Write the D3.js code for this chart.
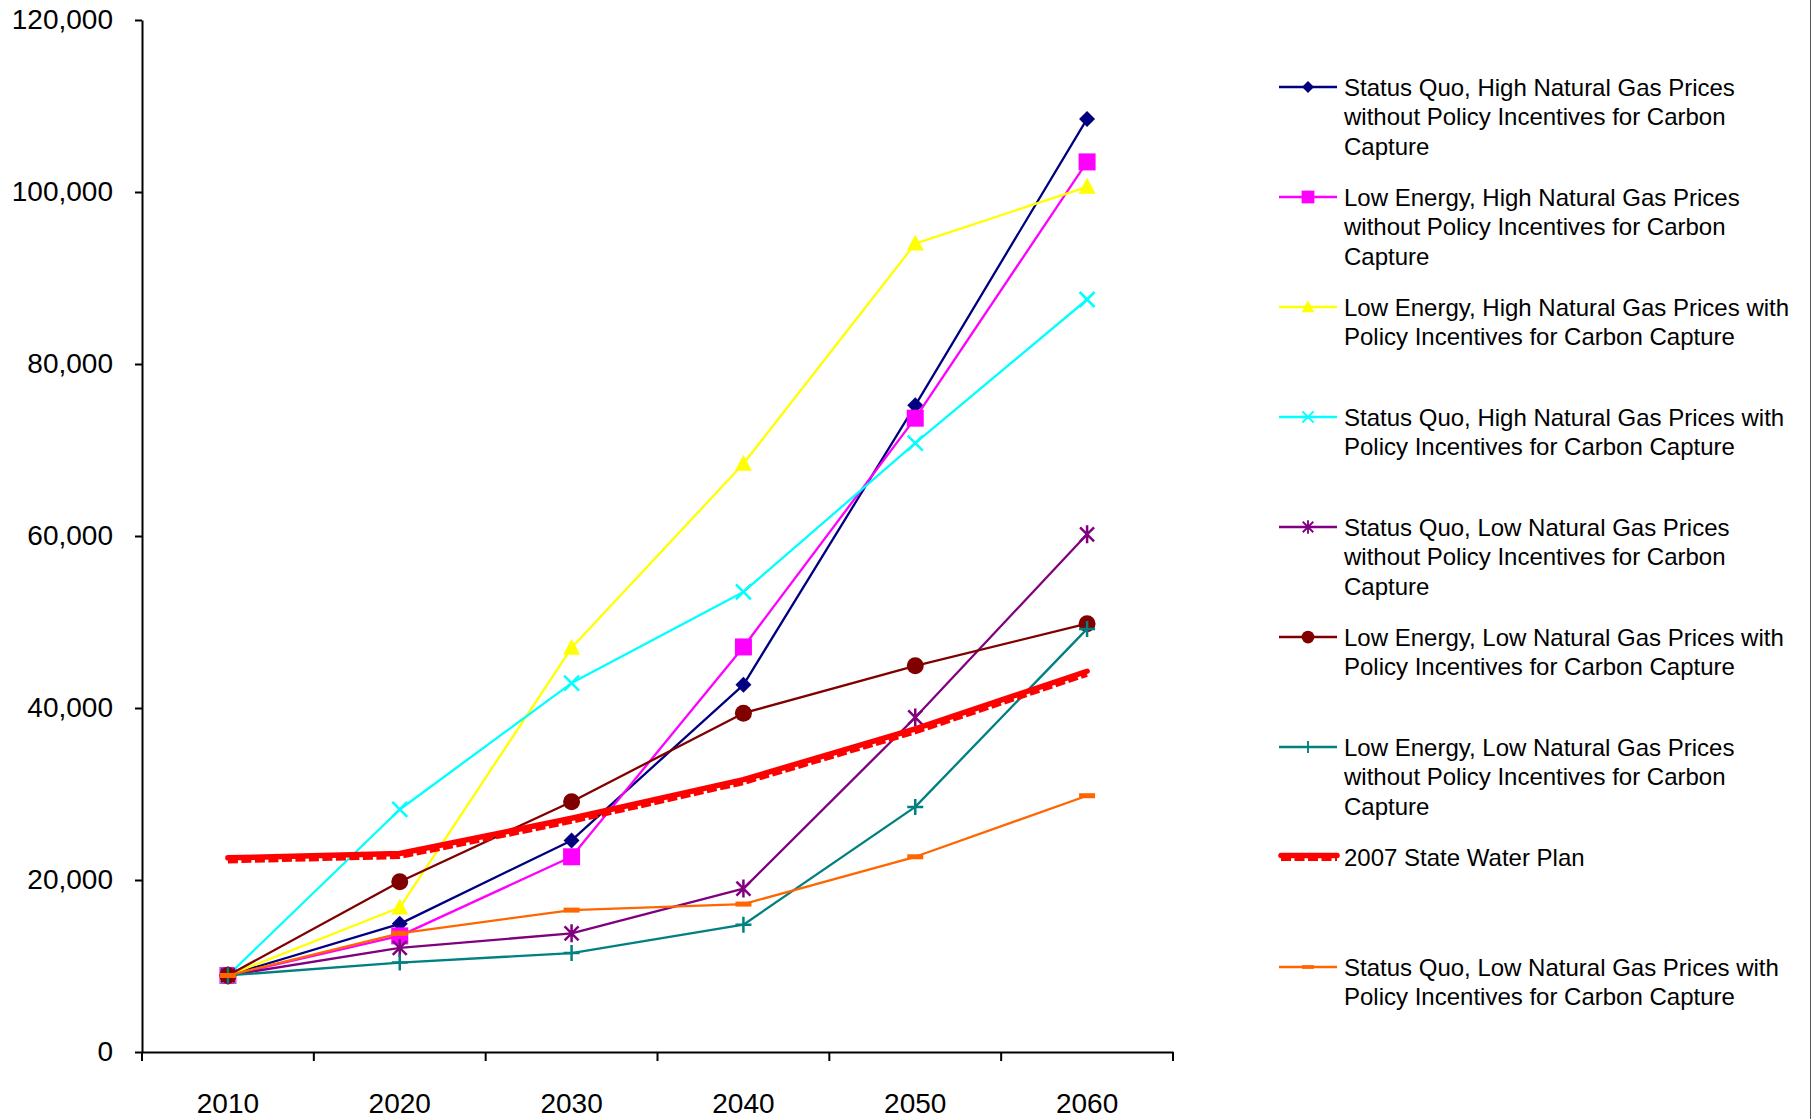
<!DOCTYPE html>
<html>
<head>
<meta charset="utf-8">
<script src="https://cdn.jsdelivr.net/npm/d3@7"></script>
<style>
  html, body { margin: 0; padding: 0; background: #fff; }
  svg { display: block; font-family: "Liberation Sans", Arial, sans-serif; }
</style>
</head>
<body>
<svg id="chart" width="1812" height="1119"></svg>
<script>
// ---------- DATA ----------
const years = ["2010", "2020", "2030", "2040", "2050", "2060"];
const yTicks = [0, 20000, 40000, 60000, 80000, 100000, 120000];

const sqHighWithout  = [8900, 14900, 24600, 42700, 75200, 108500];
const leHighWithout  = [8900, 13500, 22700, 47100, 73700, 103500];
const leHighWith     = [8900, 16800, 47000, 68400, 94000, 100600];
const sqHighWith     = [8900, 28200, 42900, 53500, 70800, 87500];
const sqLowWithout   = [8900, 12100, 13800, 19000, 38900, 60200];
const leLowWith      = [8900, 19800, 29100, 39400, 44900, 49800];
const leLowWithout   = [8900, 10400, 11500, 14800, 28500, 49200];
const stateWaterPlan = [22400, 22900, 27000, 31500, 37400, 44100];
const sqLowWith      = [8900, 13800, 16500, 17200, 22700, 29800];

const seriesNames = [
  ["Status Quo, High Natural Gas Prices", "without Policy Incentives for Carbon", "Capture"],
  ["Low Energy, High Natural Gas Prices", "without Policy Incentives for Carbon", "Capture"],
  ["Low Energy, High Natural Gas Prices with", "Policy Incentives for Carbon Capture"],
  ["Status Quo, High Natural Gas Prices with", "Policy Incentives for Carbon Capture"],
  ["Status Quo, Low Natural Gas Prices", "without Policy Incentives for Carbon", "Capture"],
  ["Low Energy, Low Natural Gas Prices with", "Policy Incentives for Carbon Capture"],
  ["Low Energy, Low Natural Gas Prices", "without Policy Incentives for Carbon", "Capture"],
  ["2007 State Water Plan"],
  ["Status Quo, Low Natural Gas Prices with", "Policy Incentives for Carbon Capture"]
];
const seriesValues = [sqHighWithout, leHighWithout, leHighWith, sqHighWith, sqLowWithout,
                      leLowWith, leLowWithout, stateWaterPlan, sqLowWith];
const seriesColors = ["#000080", "#FF00FF", "#FFFF00", "#00FFFF", "#800080",
                      "#800000", "#008080", "#FF0000", "#FF6600"];
const seriesMarkers = ["diamond", "square", "triangle", "x", "asterisk",
                       "circle", "plus", "none", "dash"];

// ---------- LAYOUT ----------
const svg = d3.select("#chart");
const plot = { left: 142, right: 1173, top: 20, bottom: 1052 };
const font = '"Liberation Sans", Arial, sans-serif';

const x = d3.scaleBand().domain(years).range([plot.left, plot.right]).padding(0);
const y = d3.scaleLinear().domain([0, 120000]).range([plot.bottom, plot.top]);
const cx = d => x(d) + x.bandwidth() / 2;

// right border
svg.append("line").attr("x1", 1810.5).attr("x2", 1810.5).attr("y1", 0).attr("y2", 1119)
  .attr("stroke", "#555").attr("stroke-width", 1);

// Y axis
const yAxis = svg.append("g").attr("transform", `translate(${plot.left},0)`)
  .call(d3.axisLeft(y).tickValues(yTicks).tickFormat(d3.format(",")).tickSize(7).tickSizeOuter(0).tickPadding(22));
yAxis.select(".domain").attr("stroke", "#000").attr("stroke-width", 2);
yAxis.selectAll(".tick line").attr("stroke", "#000").attr("stroke-width", 2);
yAxis.selectAll(".tick text").attr("font-size", 28).attr("font-family", font).attr("fill", "#000");

// X axis
const xAxis = svg.append("g").attr("transform", `translate(0,${plot.bottom})`)
  .call(d3.axisBottom(x).tickSize(0).tickSizeOuter(0).tickPadding(41));
xAxis.select(".domain").attr("stroke", "#000").attr("stroke-width", 2);
xAxis.selectAll(".tick text").attr("font-size", 28).attr("font-family", font).attr("fill", "#000");
const boundaries = years.map(d => x(d)).concat([x.range()[1]]);
xAxis.selectAll(".bt").data(boundaries).join("line").attr("class", "bt")
  .attr("x1", d => d).attr("x2", d => d).attr("y1", 0).attr("y2", 9)
  .attr("stroke", "#000").attr("stroke-width", 2);

// ---------- MARKERS ----------
function drawMarker(g, type, color, px, py) {
  switch (type) {
    case "diamond":
      g.append("path").attr("d", `M${px},${py-8}L${px+8},${py}L${px},${py+8}L${px-8},${py}Z`).attr("fill", color);
      break;
    case "square":
      g.append("rect").attr("x", px-8.5).attr("y", py-8.5).attr("width", 17).attr("height", 17).attr("fill", color);
      break;
    case "triangle":
      g.append("path").attr("d", `M${px},${py-9}L${px+8.5},${py+7}L${px-8.5},${py+7}Z`).attr("fill", color);
      break;
    case "x":
      g.append("path").attr("d", `M${px-7.5},${py-7.5}L${px+7.5},${py+7.5}M${px+7.5},${py-7.5}L${px-7.5},${py+7.5}`)
        .attr("stroke", color).attr("stroke-width", 2.5);
      break;
    case "asterisk":
      g.append("path").attr("d", `M${px-7},${py-7}L${px+7},${py+7}M${px+7},${py-7}L${px-7},${py+7}M${px},${py-9}L${px},${py+9}`)
        .attr("stroke", color).attr("stroke-width", 2.5);
      break;
    case "circle":
      g.append("circle").attr("cx", px).attr("cy", py).attr("r", 8.5).attr("fill", color);
      break;
    case "plus":
      g.append("path").attr("d", `M${px-8},${py}L${px+8},${py}M${px},${py-8}L${px},${py+8}`)
        .attr("stroke", color).attr("stroke-width", 2.5);
      break;
    case "dash":
      g.append("rect").attr("x", px-8).attr("y", py-2.5).attr("width", 16).attr("height", 5).attr("fill", color);
      break;
  }
}

// ---------- SERIES ----------
const line = d3.line().x((d, i) => cx(years[i])).y(d => y(d));

function drawNotchedLine(g, d, color) {
  // solid upper part + dashed lower part => thick line with small white notches
  g.append("path").attr("d", d).attr("fill", "none").attr("transform", "translate(0,-1.5)")
    .attr("stroke", color).attr("stroke-width", 5.5).attr("stroke-linecap", "round").attr("stroke-linejoin", "round");
  g.append("path").attr("d", d).attr("fill", "none").attr("transform", "translate(0,1.8)")
    .attr("stroke", color).attr("stroke-width", 4.5).attr("stroke-dasharray", "10 3.5").attr("stroke-linejoin", "round");
}

seriesValues.forEach((vals, si) => {
  const g = svg.append("g");
  const color = seriesColors[si];
  if (seriesMarkers[si] === "none") {
    drawNotchedLine(g, line(vals), color);
  } else {
    g.append("path").attr("d", line(vals)).attr("fill", "none")
      .attr("stroke", color).attr("stroke-width", 2.3).attr("stroke-linejoin", "round");
    vals.forEach((v, i) => drawMarker(g, seriesMarkers[si], color, cx(years[i]), y(v)));
  }
});

// ---------- LEGEND ----------
const legX1 = 1279, legX2 = 1337, legTextX = 1344, legY0 = 87, legStep = 110, lineH = 29.5;
const legend = svg.append("g");
seriesNames.forEach((lines, si) => {
  const ly = legY0 + si * legStep;
  const color = seriesColors[si];
  const g = legend.append("g");
  if (seriesMarkers[si] === "none") {
    drawNotchedLine(g, `M${legX1 + 2},${ly}L${legX2},${ly}`, color);
  } else {
    g.append("line").attr("x1", legX1).attr("x2", legX2).attr("y1", ly).attr("y2", ly)
      .attr("stroke", color).attr("stroke-width", 2.3);
    const mx = (legX1 + legX2) / 2;
    const mg = g.append("g").attr("transform", `translate(${mx},${ly}) scale(0.75) translate(${-mx},${-ly})`);
    drawMarker(mg, seriesMarkers[si], color, mx, ly);
  }
  const t = g.append("text").attr("x", legTextX).attr("y", ly).attr("font-size", 24)
    .attr("font-family", font).attr("fill", "#000");
  lines.forEach((s, li) => {
    t.append("tspan").attr("x", legTextX).attr("y", ly + li * lineH + 8.5).text(s);
  });
});
</script>
</body>
</html>
